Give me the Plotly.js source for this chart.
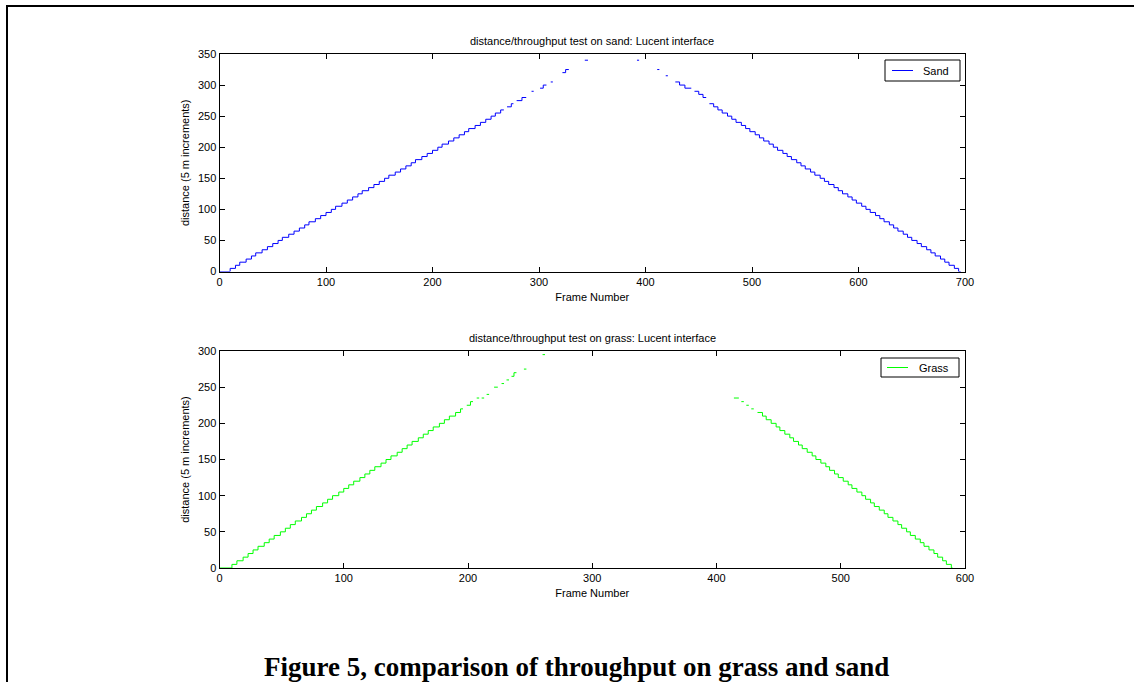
<!DOCTYPE html>
<html>
<head>
<meta charset="utf-8">
<script src="https://cdn.plot.ly/plotly-3.0.1.min.js"></script>
<style>
  html, body { margin: 0; padding: 0; background: #ffffff; }
  #chart { width: 1134px; height: 682px; }
</style>
</head>
<body>
<div id="chart"></div>
<script>
// ---- Sand run (frame number vs distance, 5 m increments; null = dropped frames)
const sandFrame = [
  0,10,15,19,25,30,34,40,45,50,55,59,65,70,75,80,84,90,95,100,
  105,109,115,120,125,130,134,140,145,150,155,159,165,170,175,180,184,190,195,200,
  205,209,215,220,225,230,234,240,245,250,255,259,264,267,
  null,270,274,276, null,279,284,288, null,293,295, null,301,304,307,
  null,311,313, null,322,325,328, null,343,346,
  null,392,394, null,411,413, null,419,421, null,428,432,437,443,
  null,446,450,454,457,
  null,460,464,468,472,477,481,485,490,494,498,503,507,511,516,520,524,529,533,537,542,
  546,550,555,559,564,568,572,577,581,585,590,594,598,603,607,611,616,620,624,629,
  633,637,642,646,650,655,659,664,668,672,677,681,685,690,694,696
];
const sandDist = [
  0,5,10,15,20,25,30,35,40,45,50,55,60,65,70,75,80,85,90,95,
  100,105,110,115,120,125,130,135,140,145,150,155,160,165,170,175,180,185,190,195,
  200,205,210,215,220,225,230,235,240,245,250,255,260,260,
  null,265,270,270, null,275,280,280, null,290,290, null,295,300,300,
  null,305,305, null,320,325,325, null,340,340,
  null,340,340, null,325,325, null,315,315, null,305,300,295,295,
  null,290,285,280,280,
  null,270,265,260,255,250,245,240,235,230,225,220,215,210,205,200,195,190,185,180,175,
  170,165,160,155,150,145,140,135,130,125,120,115,110,105,100,95,90,85,80,75,
  70,65,60,55,50,45,40,35,30,25,20,15,10,5,0,0
];

// ---- Grass run
const grassFrame = [
  0,10,14,19,23,27,31,36,40,44,49,53,57,61,66,70,74,78,83,87,
  91,96,100,104,108,113,117,121,125,130,134,138,143,147,151,155,160,164,168,172,
  177,181,185,190,194,196,
  null,199,202,204, null,207,209, null,211,213, null,215,217, null,221,224,
  null,227,229, null,231,233, null,235,237,239, null,245,247, null,260,262,
  null,414,418, null,420,422, null,424,426, null,428,430,
  null,433,437,440,444,448,451,455,459,462,466,469,473,477,480,484,488,491,495,498,502,
  506,509,513,517,520,524,527,531,535,538,542,546,549,553,556,560,564,567,571,575,
  578,582,585,589,590
];
const grassDist = [
  0,5,10,15,20,25,30,35,40,45,50,55,60,65,70,75,80,85,90,95,
  100,105,110,115,120,125,130,135,140,145,150,155,160,165,170,175,180,185,190,195,
  200,205,210,215,220,220,
  null,225,230,230, null,235,235, null,235,235, null,240,240, null,250,250,
  null,255,255, null,260,260, null,265,270,270, null,275,275, null,295,295,
  null,235,235, null,230,230, null,225,225, null,220,220,
  null,215,210,205,200,195,190,185,180,175,170,165,160,155,150,145,140,135,130,125,120,
  115,110,105,100,95,90,85,80,75,70,65,60,55,50,45,40,35,30,25,20,
  15,10,5,0,0
];

// ---- Text and tick labels
const seriesNames = ["Sand", "Grass"];
const seriesColors = ["#0000ff", "#00ff00"];
const sandTitle = "distance/throughput test on sand: Lucent interface";
const grassTitle = "distance/throughput test on grass: Lucent interface";
const xLabel = "Frame Number";
const yLabel = "distance (5 m increments)";
const caption = "Figure 5, comparison of throughput on grass and sand";
const sandXTicks = [0,100,200,300,400,500,600,700];
const sandYTicks = [0,50,100,150,200,250,300,350];
const grassXTicks = [0,100,200,300,400,500,600];
const grassYTicks = [0,50,100,150,200,250,300];

const W = 1134, H = 682;
const px = v => v / W;
const py = v => (H - v) / H;

const tickFont = {family: "Liberation Sans, Arial, sans-serif", size: 11, color: "#000"};

function axisCommon(ticks, range, domain, anchor, titleText) {
  return {
    domain: domain, anchor: anchor, range: range,
    tickmode: "array", tickvals: ticks, ticktext: ticks.map(String),
    ticks: "inside", ticklen: 5, tickwidth: 1, tickcolor: "#000",
    showline: true, linecolor: "#000", linewidth: 1, mirror: "ticks",
    showgrid: false, zeroline: false, fixedrange: true,
    tickfont: tickFont,
    title: {text: titleText, font: tickFont, standoff: 6}
  };
}

const traces = [
  {x: sandFrame, y: sandDist, name: seriesNames[0], type: "scatter", mode: "lines",
   line: {color: seriesColors[0], width: 1, shape: "hv"}, connectgaps: false,
   xaxis: "x", yaxis: "y", showlegend: false},
  {x: grassFrame, y: grassDist, name: seriesNames[1], type: "scatter", mode: "lines",
   line: {color: seriesColors[1], width: 1, shape: "hv"}, connectgaps: false,
   xaxis: "x2", yaxis: "y2", showlegend: false}
];

// manual MATLAB-style legend boxes: [left, right, top, bottom, lineX0, lineX1, textX]
const legendBoxes = [
  [885, 960, 60, 81, 892, 913, 921],
  [881, 959, 358, 377, 887, 908, 917]
];

const shapes = [
  {type: "line", xref: "paper", yref: "paper", x0: px(6), x1: 1, y0: py(6), y1: py(6),
   line: {color: "#000", width: 2}},
  {type: "line", xref: "paper", yref: "paper", x0: px(7), x1: px(7), y0: py(5), y1: 0,
   line: {color: "#000", width: 2}}
];
const annotations = [
  {text: sandTitle, xref: "paper", yref: "paper", x: px(592), y: py(41),
   xanchor: "center", yanchor: "middle", showarrow: false, font: tickFont},
  {text: grassTitle, xref: "paper", yref: "paper", x: px(592), y: py(338),
   xanchor: "center", yanchor: "middle", showarrow: false, font: tickFont},
  {text: "<b>" + caption + "</b>", xref: "paper", yref: "paper", x: px(576), y: py(667),
   xanchor: "center", yanchor: "middle", showarrow: false,
   font: {family: "Liberation Serif, Times New Roman, serif", size: 27, color: "#000"}}
];
legendBoxes.forEach((b, i) => {
  const [l, r, t, bt, lx0, lx1, tx] = b;
  const cy = (t + bt) / 2;
  shapes.push({type: "rect", xref: "paper", yref: "paper",
    x0: px(l), x1: px(r), y0: py(bt), y1: py(t),
    line: {color: "#000", width: 1}, fillcolor: "#fff"});
  shapes.push({type: "line", xref: "paper", yref: "paper",
    x0: px(lx0), x1: px(lx1), y0: py(cy), y1: py(cy),
    line: {color: seriesColors[i], width: 1}});
  annotations.push({text: seriesNames[i], xref: "paper", yref: "paper",
    x: px(tx), y: py(cy), xanchor: "left", yanchor: "middle", showarrow: false,
    font: tickFont});
});

const xDom = [px(219.5), px(965)];
const layout = {
  width: W, height: H,
  margin: {l: 0, r: 0, t: 0, b: 0},
  paper_bgcolor: "#fff", plot_bgcolor: "#fff",
  showlegend: false,
  font: tickFont,
  xaxis: axisCommon(sandXTicks, [0, 700], xDom, "y", xLabel),
  yaxis: axisCommon(sandYTicks, [0, 350], [py(271.5), py(54)], "x", yLabel),
  xaxis2: axisCommon(grassXTicks, [0, 600], xDom, "y2", xLabel),
  yaxis2: axisCommon(grassYTicks, [0, 300], [py(568), py(351)], "x2", yLabel),
  annotations: annotations,
  shapes: shapes
};

Plotly.newPlot("chart", traces, layout, {staticPlot: true, displayModeBar: false});
</script>
</body>
</html>
